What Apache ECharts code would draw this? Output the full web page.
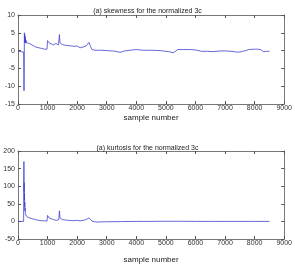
<!DOCTYPE html>
<html><head><meta charset="utf-8">
<script src="https://cdn.jsdelivr.net/npm/echarts@6/dist/echarts.min.js"></script>
<style>html,body{margin:0;padding:0;background:#fff}#c{width:295px;height:265px}</style>
</head><body><div id="c"></div>
<script>
var titles = ["(a) skewness for the normalized 3c", "(a) kurtosis for the normalized 3c"];
var xLabel = "sample number";
var skewX = [0,50,100,150,190,198,203,208,212,216,220,224,228,232,236,240,245,250,255,260,265,270,280,290,300,320,350,400,450,500,600,700,800,900,980,1000,1050,1100,1200,1250,1280,1300,1340,1370,1400,1420,1450,1500,1600,1700,1800,1900,2000,2040,2060,2100,2200,2300,2400,2420,2450,2500,2600,2800,3000,3200,3300,3450,3600,3800,4000,4200,4500,4800,5000,5100,5150,5250,5300,5400,5600,5800,6000,6200,6400,6600,6800,7000,7200,7400,7500,7600,7700,7800,8000,8100,8200,8250,8300,8400,8500];
var skewY = [-0.2,-0.2,-0.3,-0.3,-0.4,-5,-11.3,-6,-2,5,3.5,4.6,2.5,4.2,2.3,3.8,2.2,3.4,2.1,3.0,2.2,2.8,2.2,2.6,2.4,2.2,2.1,2.0,1.7,1.4,1.0,0.8,0.6,0.4,0.4,2.8,2.2,1.9,1.6,1.4,2.0,1.6,1.5,1.6,4.5,2.2,1.9,1.7,1.5,1.4,1.3,1.2,1.3,1.8,1.0,0.8,1.0,1.3,2.3,2.8,1.2,0.3,0.1,0.1,0.0,-0.1,-0.2,-0.5,-0.1,0.1,0.3,0.1,0.1,0.0,-0.2,-0.3,-0.8,-0.6,-0.6,0.3,0.3,0.3,0.2,-0.2,-0.2,-0.3,-0.1,-0.1,-0.2,-0.4,-0.4,-0.2,0.0,0.3,0.4,0.4,0.3,0.2,-0.3,-0.2,-0.2];
var kurtX = [0,50,100,150,190,200,205,210,215,220,225,230,235,240,250,260,270,280,300,350,400,500,600,700,800,900,980,1000,1050,1100,1200,1300,1350,1380,1400,1420,1450,1500,1600,1700,1800,1900,2000,2030,2060,2100,2200,2300,2400,2420,2450,2500,2600,2700,2800,3000,3500,4000,4500,5000,5500,6000,6500,7000,7500,8000,8500];
var kurtY = [0,0,0,0,0,170,85,110,60,80,40,55,30,38,22,25,18,15,12,11,10,7,5,3,2,1.5,1,17,10,7,5,3,3,5,30,10,6,5,4,3,2.5,2,3,6,2,1.5,3,5,10,14,5,1,-1,-2,-1.5,-1,-0.5,0,0,0.5,0.3,0,0,0,0,0,0];

function pairs(xs, ys){ return xs.map(function(x,i){return [x, ys[i]];}); }
var font = "Liberation Sans, Arial, sans-serif";
var axisCol = '#555';
var fmt = function(v){ return String(v); };
var xl = {fontSize:7, color:'#333', fontFamily:font, margin:1, formatter:fmt};
var yl = {fontSize:7, color:'#333', fontFamily:font, margin:3, formatter:fmt};
function xAxes(gi){
  return [
    {gridIndex:gi, type:'value', min:0, max:9000, interval:1000, position:'bottom',
     axisLine:{onZero:false,lineStyle:{color:axisCol,width:0.8}}, axisTick:{inside:true,length:3,lineStyle:{color:axisCol}},
     axisLabel:xl, splitLine:{show:false},
     name:xLabel, nameLocation:'middle', nameGap:gi===0?10:17, nameTextStyle:{fontSize:8,color:'#222',fontFamily:font}},
    {gridIndex:gi, type:'value', min:0, max:9000, interval:1000, position:'top',
     axisLine:{onZero:false,lineStyle:{color:axisCol,width:0.8}}, axisTick:{inside:true,length:3,lineStyle:{color:axisCol}},
     axisLabel:{show:false}, splitLine:{show:false}}
  ];
}
function yAxes(gi, mn, mx, iv){
  return [
    {gridIndex:gi, type:'value', min:mn, max:mx, interval:iv, position:'left',
     axisLine:{show:true,onZero:false,lineStyle:{color:axisCol,width:0.8}}, axisTick:{show:true,inside:true,length:3,lineStyle:{color:axisCol}},
     axisLabel:yl, splitLine:{show:false}},
    {gridIndex:gi, type:'value', min:mn, max:mx, interval:iv, position:'right',
     axisLine:{show:true,onZero:false,lineStyle:{color:axisCol,width:0.8}}, axisTick:{show:true,inside:true,length:3,lineStyle:{color:axisCol}},
     axisLabel:{show:false}, splitLine:{show:false}}
  ];
}
var chart = echarts.init(document.getElementById('c'), null, {renderer:'canvas'});
chart.setOption({
  animation:false,
  backgroundColor:'#fff',
  title:[
    {text:titles[0], left:'center', top:3, textStyle:{fontSize:7, fontWeight:'normal', color:'#222', fontFamily:font}},
    {text:titles[1], left:'center', top:140, textStyle:{fontSize:7, fontWeight:'normal', color:'#222', fontFamily:font}}
  ],
  grid:[
    {left:18, right:10, top:15, height:89},
    {left:18, right:10, top:151, height:88}
  ],
  xAxis: xAxes(0).concat(xAxes(1)),
  yAxis: yAxes(0,-15,10,5).concat(yAxes(1,-50,200,50)),
  series:[
    {type:'line', xAxisIndex:0, yAxisIndex:0, data:pairs(skewX,skewY), showSymbol:false, lineStyle:{color:'#4040d0', width:0.8}},
    {type:'line', xAxisIndex:2, yAxisIndex:2, data:pairs(kurtX,kurtY), showSymbol:false, lineStyle:{color:'#4040d0', width:0.8}}
  ]
});
</script></body></html>
